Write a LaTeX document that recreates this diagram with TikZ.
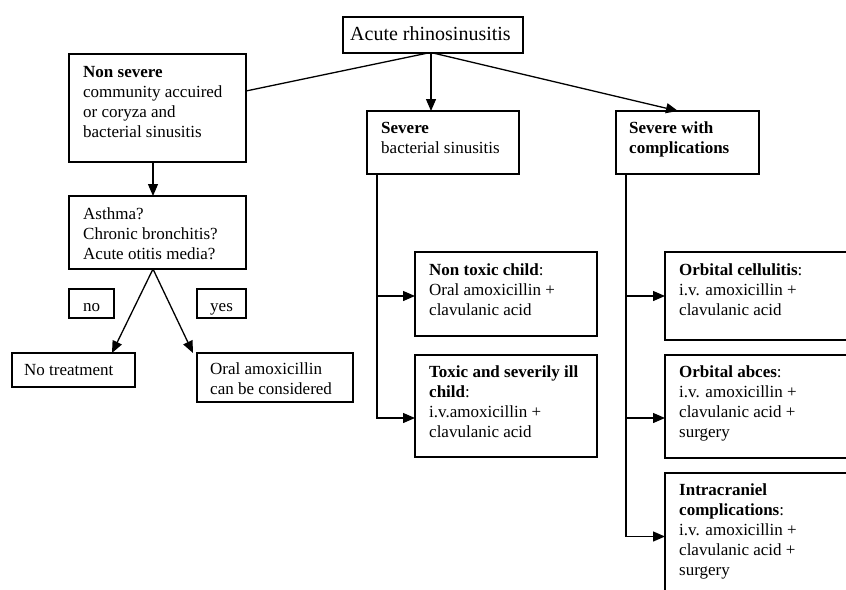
\documentclass[tikz,border=0pt]{standalone}
\usepackage{fontspec}
\setmainfont{Liberation Serif}
\usetikzlibrary{arrows.meta}
\newcommand\ml[1]{\begin{tabular}[t]{@{}l@{}}#1\end{tabular}}
\begin{document}
\begin{tikzpicture}[x=1pt,y=-1pt,
  bx/.style={draw, line width=1.4pt, inner sep=0pt, outer sep=0pt, anchor=north west},
  tx/.style={anchor=base west, inner sep=0pt, font=\fontsize{17}{20}\selectfont},
  arr/.style={line width=1.3pt, -{Triangle[length=12pt,width=10pt]}},
  ln/.style={line width=1.3pt}]
\useasboundingbox (0,0) rectangle (846,589);
\clip (0,0) rectangle (846,589);
\fill[white] (0,0) rectangle (846,589);
% boxes
\node[bx, minimum width=180pt, minimum height=36pt]  (acute)  at (343,17)  {};
\node[bx, minimum width=177pt, minimum height=108pt] (nonsev) at (69,54)   {};
\node[bx, minimum width=177pt, minimum height=73pt]  (asthma) at (69,196)  {};
\node[bx, minimum width=45pt,  minimum height=29pt]  (no)     at (69,289)  {};
\node[bx, minimum width=49pt,  minimum height=29pt]  (yes)    at (197,289) {};
\node[bx, minimum width=123pt, minimum height=34pt]  (notr)   at (12,353)  {};
\node[bx, minimum width=156pt, minimum height=49pt]  (oral)   at (197,353) {};
\node[bx, minimum width=152pt, minimum height=63pt]  (severe) at (367,111) {};
\node[bx, minimum width=143pt, minimum height=63pt]  (sevc)   at (616,111) {};
\node[bx, minimum width=182pt, minimum height=84pt]  (nontox) at (415,252) {};
\node[bx, minimum width=182pt, minimum height=102pt] (tox)    at (415,355) {};
\node[bx, minimum width=215pt, minimum height=88pt]  (oc)     at (665,252) {};
\node[bx, minimum width=215pt, minimum height=103pt] (oa)     at (665,355) {};
\node[bx, minimum width=215pt, minimum height=127pt] (ic)     at (665,473) {};
% texts
\node[tx, font=\fontsize{20}{24}\selectfont] (t-acute) at (350,40) {Acute rhinosinusitis};
\node[tx] (t-nonsev) at (83,77) {\ml{\textbf{Non severe}\\community accuired\\or coryza and\\bacterial sinusitis}};
\node[tx] (t-asthma) at (83,219) {\ml{Asthma?\\Chronic bronchitis?\\Acute otitis media?}};
\node[tx] (t-no) at (83,311) {no};
\node[tx] (t-yes) at (210,311) {yes};
\node[tx] (t-notr) at (24,375) {No treatment};
\node[tx] (t-oral) at (210,374) {\ml{Oral amoxicillin\\can be considered}};
\node[tx] (t-severe) at (381,133) {\ml{\textbf{Severe}\\bacterial sinusitis}};
\node[tx] (t-sevc) at (629,133) {\ml{\textbf{Severe with}\\\textbf{complications}}};
\node[tx] (t-nontox) at (429,275) {\ml{\textbf{Non toxic child}:\\Oral amoxicillin +\\clavulanic acid}};
\node[tx] (t-tox) at (429,377) {\ml{\textbf{Toxic and severily ill}\\\textbf{child}:\\i.v.amoxicillin +\\clavulanic acid}};
\node[tx] (t-oc) at (679,275) {\ml{\textbf{Orbital cellulitis}:\\i.v. amoxicillin +\\clavulanic acid}};
\node[tx] (t-oa) at (679,377) {\ml{\textbf{Orbital abces}:\\i.v. amoxicillin +\\clavulanic acid +\\surgery}};
\node[tx] (t-ic) at (679,495) {\ml{\textbf{Intracraniel}\\\textbf{complications}:\\i.v. amoxicillin +\\clavulanic acid +\\surgery}};
% connectors
\draw[ln]  ([xshift=-5pt]acute.south) -- ([yshift=17pt]nonsev.east);
\draw[arr] ([xshift=-2pt]acute.south) -- ([xshift=-2pt]acute.south |- severe.north);
\draw[arr] (acute.south) -- ([xshift=-9.5pt]sevc.north);
\draw[arr] ([xshift=-4.5pt]nonsev.south) -- ([xshift=-4.5pt]asthma.north);
\draw[arr] ([xshift=-4.5pt]asthma.south) -- ([xshift=38.5pt]notr.north);
\draw[arr] ([xshift=-4.5pt]asthma.south) -- ([xshift=-4pt]oral.north west);
\draw[arr] ([xshift=10pt]severe.south west) |- ([yshift=-2pt]nontox.west);
\draw[arr] ([xshift=10pt]severe.south west) |- ([yshift=-12pt]tox.west);
\draw[arr] ([xshift=10pt]sevc.south west) |- (oc.west);
\draw[arr] ([xshift=10pt]sevc.south west) |- ([yshift=-11.5pt]oa.west);
\draw[arr] ([xshift=10pt]sevc.south west) |- (ic.west);
\end{tikzpicture}
\end{document}
